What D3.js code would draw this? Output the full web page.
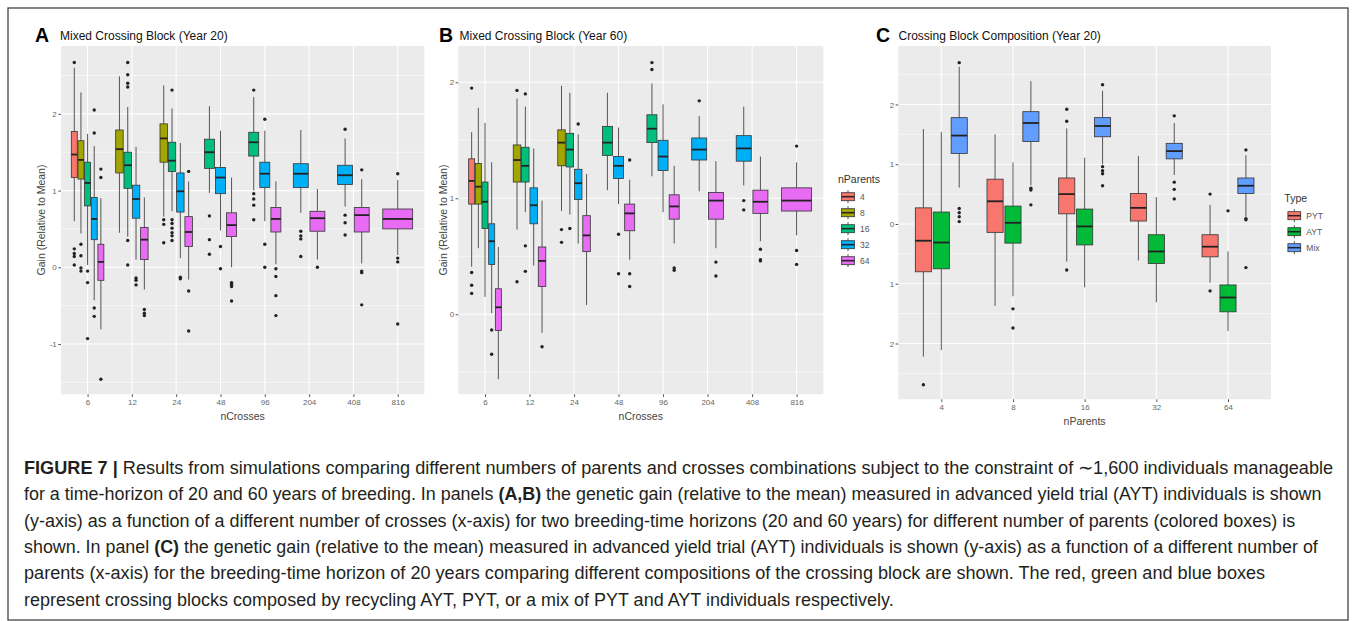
<!DOCTYPE html>
<html><head><meta charset="utf-8">
<script src="https://cdn.jsdelivr.net/npm/d3@7"></script>
<style>
body{margin:0;background:#fff;}
svg{display:block;font-family:"Liberation Sans",Arial,sans-serif;}
</style>
</head><body>
<svg id="c" width="1355" height="621"></svg>
<script>
// ---------------- DATA ----------------
const nCrosses = ["6","12","24","48","96","204","408","816"];
const nParents = ["4","8","16","32","64"];
const types = ["PYT","AYT","Mix"];

const ticksA = [-1,0,1,2], minorA = [-1.5,-0.5,0.5,1.5,2.5];
const ticksB = [0,1,2], minorB = [-0.5,0.5,1.5];
const ticksC = [-2,-1,0,1,2], minorC = [-2.5,-1.5,-0.5,0.5,1.5,2.5];

// [nCrosses, nParents, whiskerLow, q1, median, q3, whiskerHigh, outliers]
const statsA = [
 ["6","4",0.60,1.17,1.47,1.77,2.60,[2.67,0.24,0.18,0.14,0.03]],
 ["6","8",0.44,1.15,1.40,1.65,2.28,[0.30,0.15,-0.01,-0.05]],
 ["6","16",0.03,0.80,1.10,1.37,1.74,[-0.05,-0.20,-0.93]],
 ["6","32",-0.43,0.36,0.63,0.91,1.58,[2.05,1.75,-0.53,-0.64]],
 ["6","64",-0.81,-0.17,0.07,0.30,0.90,[1.28,1.17,-1.46]],
 ["12","8",0.45,1.23,1.54,1.79,2.49,[]],
 ["12","16",0.40,1.03,1.33,1.50,2.09,[2.67,2.51,2.40,2.35,0.35,0.03]],
 ["12","32",0.10,0.64,0.89,1.07,1.57,[-0.14,-0.17,-0.23]],
 ["12","64",-0.29,0.10,0.36,0.52,0.91,[-0.55,-0.60,-0.63]],
 ["24","8",0.66,1.37,1.68,1.87,2.37,[0.62,0.56,0.32]],
 ["24","16",0.73,1.25,1.39,1.63,2.07,[2.31,0.62,0.57,0.51,0.45,0.41,0.35]],
 ["24","32",0.12,0.72,0.99,1.23,1.62,[-0.13,-0.15]],
 ["24","64",-0.16,0.27,0.46,0.66,1.12,[1.25,-0.31,-0.83]],
 ["48","16",0.97,1.29,1.50,1.67,2.10,[0.67,0.36,0.17]],
 ["48","32",0.48,0.96,1.17,1.30,1.78,[0.27,-0.02]],
 ["48","64",0.00,0.40,0.55,0.71,1.17,[-0.20,-0.22,-0.25,-0.44]],
 ["96","16",1.00,1.45,1.63,1.76,2.22,[2.31,0.96,0.89,0.81,0.62]],
 ["96","32",0.60,1.04,1.22,1.37,1.78,[1.93,0.30,0.00]],
 ["96","64",0.04,0.46,0.63,0.78,1.12,[-0.02,-0.12,-0.37,-0.63]],
 ["204","32",0.71,1.04,1.22,1.35,1.79,[0.47,0.41,0.37,0.14]],
 ["204","64",0.10,0.47,0.64,0.73,1.02,[0.00]],
 ["408","32",0.79,1.08,1.20,1.33,1.68,[1.80,0.68,0.58,0.42]],
 ["408","64",0.05,0.46,0.68,0.78,1.15,[1.27,-0.05,-0.07,-0.49]],
 ["816","64",0.16,0.50,0.63,0.76,1.14,[1.22,0.12,0.07,-0.74]]
];

const statsB = [
 ["6","4",0.41,0.95,1.15,1.34,1.57,[1.95,0.36,0.25,0.18]],
 ["6","8",0.57,0.95,1.10,1.30,1.78,[]],
 ["6","16",0.15,0.74,0.97,1.14,1.65,[]],
 ["6","32",0.01,0.43,0.63,0.78,1.31,[-0.135,-0.345]],
 ["6","64",-0.56,-0.14,0.06,0.22,0.58,[]],
 ["12","8",0.73,1.14,1.33,1.46,1.86,[1.93,0.28]],
 ["12","16",0.88,1.14,1.28,1.44,1.79,[1.90,0.59,0.37]],
 ["12","32",0.42,0.78,0.94,1.09,1.43,[]],
 ["12","64",-0.16,0.24,0.46,0.58,0.98,[-0.28]],
 ["24","8",0.89,1.28,1.48,1.59,1.97,[0.73,0.62]],
 ["24","16",0.86,1.27,1.42,1.56,1.91,[0.74]],
 ["24","32",0.61,0.99,1.13,1.25,1.55,[1.64]],
 ["24","64",0.08,0.54,0.68,0.85,1.21,[]],
 ["48","16",1.07,1.37,1.48,1.62,1.91,[]],
 ["48","32",0.95,1.17,1.28,1.36,1.61,[0.69,0.35]],
 ["48","64",0.47,0.72,0.87,0.95,1.16,[1.33,0.35,0.24]],
 ["96","16",1.19,1.48,1.60,1.72,1.99,[2.17,2.11]],
 ["96","32",0.88,1.24,1.36,1.50,1.81,[]],
 ["96","64",0.61,0.82,0.93,1.03,1.28,[0.40,0.38]],
 ["204","32",1.06,1.33,1.42,1.52,1.71,[1.84]],
 ["204","64",0.57,0.82,0.98,1.05,1.32,[0.45,0.33]],
 ["408","32",1.11,1.32,1.43,1.54,1.79,[0.98,0.90]],
 ["408","64",0.63,0.87,0.97,1.07,1.36,[0.56,0.47,0.46]],
 ["816","64",0.68,0.89,0.98,1.09,1.31,[1.45,0.55,0.43]]
];

// [nParents, Type, whiskerLow, q1, median, q3, whiskerHigh, outliers]
const statsC = [
 ["4","PYT",-2.22,-0.80,-0.28,0.27,1.59,[-2.69]],
 ["4","AYT",-2.11,-0.75,-0.31,0.20,1.54,[]],
 ["4","Mix",0.61,1.18,1.48,1.78,2.63,[2.70,0.26,0.19,0.12,0.04]],
 ["8","PYT",-1.37,-0.14,0.38,0.75,1.50,[]],
 ["8","AYT",-1.21,-0.32,0.02,0.30,1.03,[-1.42,-1.74]],
 ["8","Mix",0.65,1.38,1.69,1.88,2.39,[0.60,0.57,0.32]],
 ["16","PYT",-0.63,0.17,0.50,0.77,1.60,[1.92,1.72,-0.77]],
 ["16","AYT",-1.06,-0.35,-0.04,0.25,1.11,[]],
 ["16","Mix",1.00,1.46,1.64,1.78,2.23,[2.33,0.96,0.89,0.84,0.64]],
 ["32","PYT",-0.61,0.05,0.27,0.51,1.14,[]],
 ["32","AYT",-1.31,-0.66,-0.46,-0.18,0.45,[]],
 ["32","Mix",0.82,1.09,1.22,1.35,1.69,[1.81,0.70,0.58,0.42]],
 ["64","PYT",-0.98,-0.55,-0.38,-0.18,0.32,[0.50,-1.12]],
 ["64","AYT",-1.79,-1.47,-1.23,-1.02,-0.46,[0.22]],
 ["64","Mix",0.12,0.51,0.64,0.77,1.15,[1.24,0.09,0.07,-0.73]]
];

const colorsParents = ["#F8766D","#A3A500","#00BF7D","#00B0F6","#E76BF3"];
const colorsType = ["#F8766D","#00BA38","#619CFF"];

const captionLines = [
 [["FIGURE 7 | ",1],["Results from simulations comparing different numbers of parents and crosses combinations subject to the constraint of \u223C1,600 individuals manageable",0]],
 [["for a time-horizon of 20 and 60 years of breeding. In panels ",0],["(A,B)",1],[" the genetic gain (relative to the mean) measured in advanced yield trial (AYT) individuals is shown",0]],
 [["(y-axis) as a function of a different number of crosses (x-axis) for two breeding-time horizons (20 and 60 years) for different number of parents (colored boxes) is",0]],
 [["shown. In panel ",0],["(C)",1],[" the genetic gain (relative to the mean) measured in advanced yield trial (AYT) individuals is shown (y-axis) as a function of a different number of",0]],
 [["parents (x-axis) for the breeding-time horizon of 20 years comparing different compositions of the crossing block are shown. The red, green and blue boxes",0]],
 [["represent crossing blocks composed by recycling AYT, PYT, or a mix of PYT and AYT individuals respectively.",0]]
];
const captionWidths = [1311,1299,1272,1294,1242,870];

// ---------------- DRAW ----------------
const svg = d3.select("#c");
svg.append("rect").attr("x",8).attr("y",8).attr("width",1340).attr("height",612)
  .attr("fill","none").attr("stroke","#444").attr("stroke-width",1.3);

const FONT = '"Liberation Sans", Arial, sans-serif';

function panel(cfg){
  const {x0,x1,y0,y1,cats,groups,colors,dom,ticks,minor,stats,fmt} = cfg;
  const x = d3.scalePoint().domain(cats).range([x0,x1]).padding(0.6);
  const y = d3.scaleLinear().domain(dom).range([y1,y0]);
  const g = svg.append("g");
  g.append("rect").attr("x",x0).attr("y",y0).attr("width",x1-x0).attr("height",y1-y0).attr("fill","#EBEBEB");
  g.selectAll("line.mn").data(minor).join("line").attr("class","mn")
    .attr("x1",x0).attr("x2",x1).attr("y1",d=>y(d)).attr("y2",d=>y(d))
    .attr("stroke","#fff").attr("stroke-width",0.6);
  g.selectAll("line.mj").data(ticks).join("line").attr("class","mj")
    .attr("x1",x0).attr("x2",x1).attr("y1",d=>y(d)).attr("y2",d=>y(d))
    .attr("stroke","#fff").attr("stroke-width",1.1);
  g.selectAll("line.vj").data(cats).join("line").attr("class","vj")
    .attr("x1",d=>x(d)).attr("x2",d=>x(d)).attr("y1",y0).attr("y2",y1)
    .attr("stroke","#fff").attr("stroke-width",1.1);

  const step = x.step();
  cats.forEach(c=>{
    const rows = stats.filter(r=>r[0]===c).sort((a,b)=>groups.indexOf(a[1])-groups.indexOf(b[1]));
    const k = rows.length, slot = 0.75*step/k;
    rows.forEach((r,j)=>{
      const cx = x(c) - 0.375*step + slot*(j+0.5);
      const w = slot*0.9;
      const color = colors[groups.indexOf(r[1])];
      const bg = g.append("g");
      bg.append("line").attr("x1",cx).attr("x2",cx).attr("y1",y(r[6])).attr("y2",y(r[5]))
        .attr("stroke","#555").attr("stroke-width",1);
      bg.append("line").attr("x1",cx).attr("x2",cx).attr("y1",y(r[3])).attr("y2",y(r[2]))
        .attr("stroke","#555").attr("stroke-width",1);
      bg.append("rect").attr("x",cx-w/2).attr("y",y(r[5])).attr("width",w).attr("height",y(r[3])-y(r[5]))
        .attr("fill",color).attr("stroke","#333").attr("stroke-width",0.8);
      bg.append("line").attr("x1",cx-w/2).attr("x2",cx+w/2).attr("y1",y(r[4])).attr("y2",y(r[4]))
        .attr("stroke","#222").attr("stroke-width",1.8);
      bg.selectAll("circle").data(r[7]).join("circle")
        .attr("cx",cx).attr("cy",d=>y(d)).attr("r",1.7).attr("fill","#222");
    });
  });

  const ya = g.append("g").attr("transform",`translate(${x0},0)`)
    .call(d3.axisLeft(y).tickValues(ticks).tickSize(2.7).tickPadding(1.5).tickFormat(fmt||(d=>String(d))));
  ya.select(".domain").remove();
  ya.attr("font-size",8).attr("font-family",FONT);
  ya.selectAll("line").attr("stroke","#555");
  ya.selectAll("text").attr("fill","#666");

  const xa = g.append("g").attr("transform",`translate(0,${y1})`)
    .call(d3.axisBottom(x).tickSize(2.7).tickPadding(2));
  xa.select(".domain").remove();
  xa.attr("font-size",8).attr("font-family",FONT);
  xa.selectAll("line").attr("stroke","#555");
  xa.selectAll("text").attr("fill","#666");
  return {x,y};
}

function texts(){
  [["A",35,60,"Mixed Crossing Block (Year 20)"],["B",439,459.5,"Mixed Crossing Block (Year 60)"],["C",876,898.5,"Crossing Block Composition (Year 20)"]]
  .forEach(([L,lx,tx,t])=>{
    svg.append("text").attr("x",lx).attr("y",41.5).attr("font-size",19.5).attr("font-weight","bold")
      .attr("font-family",FONT).attr("fill","#000").text(L);
    svg.append("text").attr("x",tx).attr("y",40).attr("font-size",12).attr("font-family",FONT)
      .attr("fill","#111").text(t);
  });
}

const pA = panel({x0:61,x1:424.3,y0:46,y1:394.3,cats:nCrosses,groups:nParents,colors:colorsParents,
  dom:[-1.656,2.885],ticks:ticksA,minor:minorA,stats:statsA});
const pB = panel({x0:458.3,x1:823.3,y0:46,y1:394.3,cats:nCrosses,groups:nParents,colors:colorsParents,
  dom:[-0.69,2.313],ticks:ticksB,minor:minorB,stats:statsB});
const pC = panel({x0:898.3,x1:1271,y0:46,y1:399.3,cats:nParents,groups:types,colors:colorsType,
  dom:[-2.934,2.979],ticks:ticksC,minor:minorC,stats:statsC,fmt:d=>String(Math.abs(d))});
texts();

function axTitle(x,y,t,rot){
  const el = svg.append("text").attr("font-size",10.5).attr("font-family",FONT).attr("fill","#444")
    .attr("text-anchor","middle").text(t);
  if(rot) el.attr("transform",`translate(${x},${y}) rotate(-90)`).attr("dy","0.35em");
  else el.attr("x",x).attr("y",y);
}
axTitle(242.6,420,"nCrosses");
axTitle(640.8,420,"nCrosses");
axTitle(1084.6,425,"nParents");
axTitle(41,220,"Gain (Relative to Mean)",true);
axTitle(443,220,"Gain (Relative to Mean)",true);

function legend(x0,titleY,firstY,title,labels,colors){
  svg.append("text").attr("x",x0-2).attr("y",titleY).attr("font-size",10.5).attr("font-family",FONT)
    .attr("fill","#333").text(title);
  labels.forEach((lab,i)=>{
    const cy = firstY + 16*i;
    const g = svg.append("g");
    g.append("line").attr("x1",x0+8).attr("x2",x0+8).attr("y1",cy-6.5).attr("y2",cy+6.5)
      .attr("stroke","#555").attr("stroke-width",1);
    g.append("rect").attr("x",x0+1.6).attr("y",cy-4).attr("width",12.8).attr("height",8)
      .attr("fill",colors[i]).attr("stroke","#333").attr("stroke-width",0.8);
    g.append("line").attr("x1",x0+1.6).attr("x2",x0+14.4).attr("y1",cy).attr("y2",cy)
      .attr("stroke","#222").attr("stroke-width",1.5);
    svg.append("text").attr("x",x0+20).attr("y",cy).attr("dy","0.35em").attr("font-size",8.5)
      .attr("font-family",FONT).attr("fill","#555").text(lab);
  });
}
legend(840,183,196.7,"nParents",nParents,colorsParents);
legend(1286.3,202,215.7,"Type",types,colorsType);

// caption: each line drawn at natural size, then horizontally scaled to its measured width
captionLines.forEach((parts,i)=>{
  const t = svg.append("text").attr("x",0).attr("y",0)
    .attr("font-size",18.5).attr("font-family",'"Liberation Sans Narrow","Arial Narrow","Liberation Sans",Arial,sans-serif')
    .attr("fill","#231f20").style("white-space","pre");
  parts.forEach(([s,b])=>{
    t.append("tspan").attr("font-weight",b?"bold":"normal").text(s);
  });
  const natural = t.node().getComputedTextLength();
  const sx = captionWidths[i]/natural;
  t.attr("transform",`translate(24,${474+26.3*i}) scale(${sx},1)`);
});
</script>
</body></html>
